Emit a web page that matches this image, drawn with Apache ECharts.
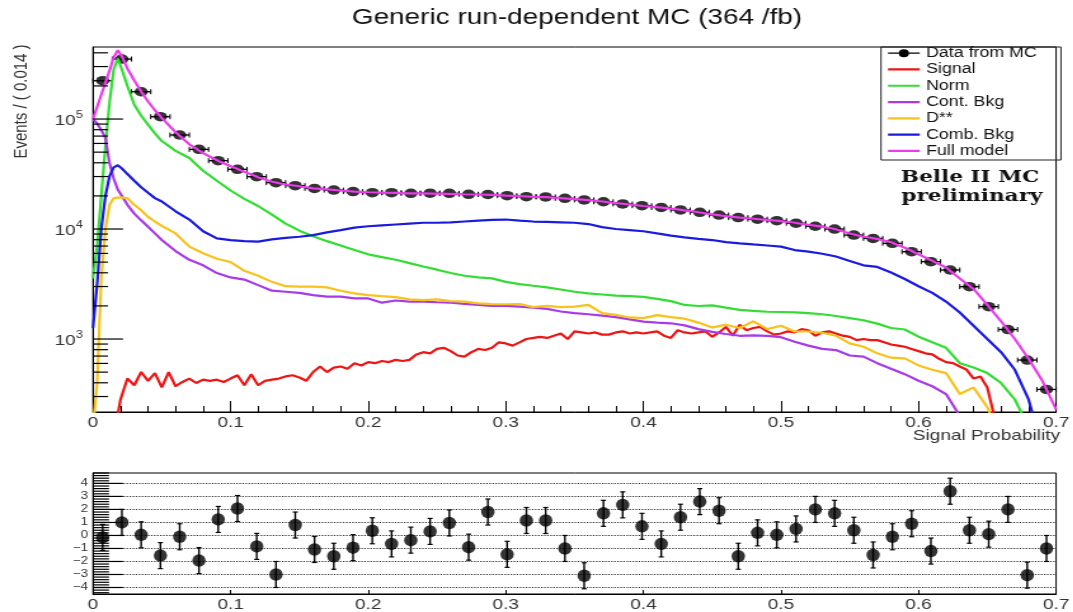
<!DOCTYPE html>
<html><head><meta charset="utf-8">
<script src="https://cdn.jsdelivr.net/npm/echarts@6/dist/echarts.min.js"></script>
<style>
html,body{margin:0;padding:0;background:#fff;overflow:hidden;}
#wrap{width:1073px;height:612px;overflow:hidden;position:relative;background:#fff;}
#c{width:845px;height:612px;transform:scaleX(1.27);transform-origin:0 0;}
</style></head>
<body><div id="wrap"><div id="c"></div></div>
<script>
const binWidth = 0.014;
const dataX = [0.007,0.021,0.035,0.049,0.063,0.077,0.091,0.105,0.119,0.133,
  0.147,0.161,0.175,0.189,0.203,0.217,0.231,0.245,0.259,0.273,
  0.287,0.301,0.315,0.329,0.343,0.357,0.371,0.385,0.399,0.413,
  0.427,0.441,0.455,0.469,0.483,0.497,0.511,0.525,0.539,0.553,
  0.567,0.581,0.595,0.609,0.623,0.637,0.651,0.665,0.679,0.693];
const dataY = [223000,351000,177000,105000,71600,53000,41800,34900,29900,26400,
  24800,23400,22600,21900,21400,21400,21100,21200,21100,20700,
  20600,20100,19700,19600,19000,18400,17700,16900,16300,15700,
  14900,14200,13400,12700,12300,11900,11300,10600,10000,8810,
  8220,7410,6220,5050,4240,2990,1970,1220,644,348];
const pullY = [-0.15,1.0,0.05,-1.55,-0.1,-1.93,1.23,2.07,-0.84,-3.0,
  0.8,-1.08,-1.6,-0.94,0.36,-0.65,-0.36,0.31,0.96,-0.9,
  1.8,-1.45,1.15,1.15,-1.0,-3.1,1.7,2.35,0.7,-0.65,
  1.4,2.6,1.9,-1.6,0.2,0.05,0.5,2.0,1.7,0.4,
  -1.5,-0.1,0.9,-1.2,3.4,0.4,0.1,2.0,-3.05,-1.0];
const curveX = [0,0.003,0.006,0.009,0.012,0.015,0.018,0.021,0.025,0.03,0.035,0.04,0.045,0.05,
  0.06,0.07,0.08,0.09,0.10,0.11,0.12,0.13,0.14,0.15,
  0.16,0.17,0.18,0.19,0.20,0.21,0.22,0.23,0.24,0.25,
  0.26,0.27,0.28,0.29,0.30,0.31,0.32,0.33,0.34,0.35,
  0.36,0.37,0.38,0.39,0.40,0.41,0.42,0.43,0.44,0.45,
  0.46,0.47,0.48,0.49,0.50,0.51,0.52,0.53,0.54,0.55,
  0.56,0.57,0.58,0.59,0.60,0.61,0.62,0.63,0.64,0.65,
  0.66,0.67,0.68,0.69,0.70];
const fullModel = [100000,128800,166000,213800,275400,363100,421700,371500,288400,223900,177800,144500,120200,102300,
  75900,58900,49000,42200,37200,33100,29500,26900,25400,24500,
  23400,22900,22400,21900,21600,21400,21300,21100,21100,21000,
  20900,20700,20600,20400,20100,19900,19600,19500,19100,18700,
  18300,17800,17200,16700,16200,15800,15300,14800,14200,13600,
  13100,12700,12400,12100,11800,11400,10900,10500,9950,9120,
  8510,8130,7590,6760,5890,5130,4470,3550,2850,2040,
  1450,1000,661,417,229];
const norm = [3550,7080,19950,56200,141300,281800,354800,281800,199500,134900,107200,89100,74100,63100,
  51300,44200,33900,27500,22400,18800,16200,13500,11200,9660,
  8610,7760,7080,6460,5890,5560,5250,4900,4570,4270,
  3980,3760,3630,3560,3310,3160,3050,2950,2820,2690,
  2600,2540,2480,2450,2420,2320,2210,2040,1995,2020,
  1930,1840,1800,1770,1760,1750,1720,1680,1620,1550,
  1480,1380,1260,1220,1050,933,832,603,550,490,
  398,282,158,null,null];
const combBkg = [1260,3160,10000,19950,30200,36300,38000,35500,31600,27500,24000,21400,19100,17800,
  14500,12200,9550,8220,7940,7760,7670,8040,8320,8510,
  8810,9330,9770,10300,10600,10800,11000,11200,11400,11400,
  11500,11700,11900,12100,12200,11900,11700,11600,11500,11400,
  11100,10400,10000,9770,9550,9120,8710,8410,8130,7940,
  7590,7410,7240,7080,6920,6440,6240,5960,5620,5130,
  4680,4520,4030,3510,3020,2630,2190,1740,1320,1000,
  759,525,282,100,null];
const contBkg = [100000,91200,79400,67600,39800,28800,22900,19950,16600,13800,12000,10500,9120,7940,
  6310,5250,4680,3980,3630,3470,3090,2750,2690,2630,
  2510,2430,2430,2340,2340,2140,2240,2190,2190,2160,
  2140,2090,2040,2000,2000,1970,1930,1880,1780,1720,
  1680,1630,1580,1510,1440,1410,1390,1330,1230,1160,
  1110,1070,1080,1070,1040,944,871,813,794,708,
  692,603,537,479,417,372,316,200,126,null,
  null,null,null,null,null];
const dStar = [158,398,3550,10000,16600,19100,19300,19300,19100,16600,14800,12900,11700,10700,
  9120,6920,6030,5370,5010,4170,3760,3310,3020,2990,
  2990,2950,2750,2600,2510,2450,2400,2290,2260,2290,
  2210,2190,2110,2080,2070,2080,1950,2000,1950,1970,
  2040,1720,1660,1570,1550,1650,1580,1530,1410,1270,
  1350,1260,1450,1230,1320,1170,1170,1140,1070,912,
  851,741,676,667,575,525,490,316,363,240,
  126,null,null,null,null];
const signalPts = [[0.015,126],[0.02,282],[0.025,437],[0.03,380],[0.035,501],[0.04,417],[0.045,490],[0.05,363],[0.055,501],[0.06,372],
  [0.065,407],[0.07,437],[0.075,398],[0.08,427],[0.085,417],[0.09,427],[0.095,407],[0.1,437],[0.105,468],[0.11,380],
  [0.115,479],[0.12,380],[0.125,417],[0.13,427],[0.135,437],[0.14,457],[0.145,468],[0.15,447],[0.155,417],[0.16,501],
  [0.165,562],[0.17,501],[0.175,550],[0.18,562],[0.185,537],[0.19,603],[0.195,575],[0.2,617],[0.205,603],[0.21,631],
  [0.215,617],[0.22,646],[0.225,631],[0.23,646],[0.235,724],[0.24,759],[0.245,741],[0.25,813],[0.255,832],[0.26,776],
  [0.265,708],[0.27,692],[0.275,759],[0.28,813],[0.285,794],[0.29,832],[0.295,933],[0.3,912],[0.305,871],[0.31,933],
  [0.315,1000],[0.32,1023],[0.325,1047],[0.33,1023],[0.335,1072],[0.34,1122],[0.345,1000],[0.35,1175],[0.355,1148],[0.36,1122],
  [0.365,1148],[0.37,1096],[0.375,1096],[0.38,1148],[0.385,1175],[0.39,1122],[0.395,1148],[0.4,1122],[0.405,1148],[0.41,1175],
  [0.415,1072],[0.42,1023],[0.425,1202],[0.43,1148],[0.435,1122],[0.44,1148],[0.445,1175],[0.45,1047],[0.455,1148],[0.46,1288],
  [0.465,1072],[0.47,1349],[0.475,1202],[0.48,1259],[0.485,1288],[0.49,1175],[0.495,1096],[0.5,1122],[0.505,1175],[0.51,1148],
  [0.515,1230],[0.52,1202],[0.525,1072],[0.53,1148],[0.535,1175],[0.54,1122],[0.545,1072],[0.55,1047],[0.555,977],[0.56,1000],
  [0.565,977],[0.57,977],[0.575,933],[0.58,891],[0.585,871],[0.59,851],[0.595,813],[0.6,776],[0.605,741],[0.61,724],
  [0.615,661],[0.62,617],[0.625,603],[0.63,562],[0.635,525],[0.64,437],[0.645,457],[0.65,363],[0.655,200],[0.66,126]];
const legendNames = ['Data from MC','Signal','Norm','Cont. Bkg','D**','Comb. Bkg','Full model'];
const majorY = [1000,10000,100000];
const minorY = [300,400,500,600,700,800,900,2000,3000,4000,5000,6000,7000,8000,9000,
  20000,30000,40000,50000,60000,70000,80000,90000,200000,300000,400000];
const pullLines = [-4,-3,-2,-1,0,1,2,3,4];
const pullMinor = [-4.4,-4.2,-4,-3.8,-3.6,-3.4,-3.2,-3,-2.8,-2.6,-2.4,-2.2,-2,-1.8,-1.6,-1.4,-1.2,-1,-0.8,-0.6,-0.4,-0.2,0,
  0.2,0.4,0.6,0.8,1,1.2,1.4,1.6,1.8,2,2.2,2.4,2.6,2.8,3,3.2,3.4,3.6,3.8,4,4.2,4.4,4.6,4.8];

const SX = 1.27;              // the reference canvas is stretched horizontally
const gx = v => v / SX;       // reference x -> unscaled chart x
const FONT = 'Liberation Sans, Arial, Helvetica, sans-serif';
const LAB = '#333';
const COL = {'Data from MC':'#000000','Signal':'#f01414','Norm':'#33dd33','Cont. Bkg':'#a83be8',
  'D**':'#f7c31c','Comb. Bkg':'#1a1ae0','Full model':'#ec3cec'};
const lineIcon = 'path://M0,0H0.01V0.01H0Z M0,3.9H25V6.1H0Z M24.99,9.99H25V10H24.99Z';
const dataIcon = 'path://M0,0H0.01V0.01H0Z M0,4.4H8.5V5.6H0Z M16.5,4.4H25V5.6H16.5Z M8.5,5A4,4 0 1,0 16.5,5A4,4 0 1,0 8.5,5Z M24.99,9.99H25V10H24.99Z';
const gridL = gx(93), gridW = gx(1060) - gx(93);
const X_MAX = 0.7;

function curve(arr){ return curveX.map((x,i)=>[x, arr[i]]); }
function lineSeries(name, data){
  return {type:'line', name, xAxisIndex:0, yAxisIndex:0, data, showSymbol:false, symbol:'none',
    clip:true, smooth:false, color:COL[name], itemStyle:{color:COL[name]},
    lineStyle:{color:COL[name], width:2.2}, z:3, silent:true};
}
// tick marks of the left axes, drawn through the axis scale
function tickSeries(xi, yi, values, lens){
  return {type:'custom', name:'ticks' + yi, xAxisIndex:xi, yAxisIndex:yi, silent:true, z:10,
    encode:{x:0, y:1}, clip:false,
    data: values.map((v, i) => [0.35, v, lens[i]]),
    renderItem:(params, api) => {
      const p = api.coord([0, api.value(1)]);
      const len = api.value(2);
      return {type:'rect', shape:{x:p[0], y:p[1] - 0.6, width:len, height:1.2},
        style:{fill:'#000'}};
    }};
}
const mainTickVals = majorY.concat(minorY);
const mainTickLens = majorY.map(() => gx(30)).concat(minorY.map(() => gx(15)));
const pullTickVals = pullLines.concat(pullMinor);
const pullTickLens = pullLines.map(() => gx(30)).concat(pullMinor.map(() => gx(16)));

const chart = echarts.init(document.getElementById('c'), null, {width:845, height:612});
const xLabelFmt = v => v===0 ? '0' : String(+v.toFixed(1));
const option = {
  animation:false,
  backgroundColor:'#fff',
  grid:[
    {left:gridL, top:47, width:gridW, height:365, show:true, borderColor:'#000', borderWidth:1, backgroundColor:'transparent'},
    {left:gridL, top:473, width:gridW, height:128.7, show:true, borderColor:'#000', borderWidth:1, backgroundColor:'transparent'}
  ],
  xAxis:[
    {type:'value', gridIndex:0, min:0, max:X_MAX, interval:0.1,
     axisLine:{show:true, onZero:false, lineStyle:{color:'#000', width:1}},
     axisTick:{show:true, inside:true, length:11, lineStyle:{color:'#000', width:1}},
     minorTick:{show:true, splitNumber:5, length:6, lineStyle:{color:'#000', width:1}},
     axisLabel:{color:LAB, fontSize:15, fontFamily:FONT, margin:3, formatter:xLabelFmt},
     splitLine:{show:false}, minorSplitLine:{show:false}},
    {type:'value', gridIndex:1, min:0, max:X_MAX, interval:0.1,
     axisLine:{show:true, onZero:false, lineStyle:{color:'#000', width:1}},
     axisTick:{show:true, inside:true, length:4, lineStyle:{color:'#000', width:1}},
     axisLabel:{color:LAB, fontSize:15, fontFamily:FONT, margin:3, formatter:xLabelFmt},
     splitLine:{show:false}}
  ],
  yAxis:[
    {type:'log', logBase:10, gridIndex:0, min:217, max:451800, position:'left',
     axisLine:{show:true, lineStyle:{color:'#000', width:1}},
     axisTick:{show:false},
     axisLabel:{show:true, customValues:majorY, margin:8,
       formatter:v => '{b|10}{s|' + Math.round(Math.log10(v)) + '}',
       rich:{b:{fontSize:15, fontFamily:FONT, color:LAB, lineHeight:18, verticalAlign:'bottom'},
             s:{fontSize:10, fontFamily:FONT, color:LAB, lineHeight:18, verticalAlign:'top'}}},
     splitLine:{show:false}, minorTick:{show:false}},
    {type:'value', gridIndex:1, min:-4.5, max:4.8, position:'left',
     axisLine:{show:true, lineStyle:{color:'#000', width:1}},
     axisTick:{show:false},
     axisLabel:{show:true, customValues:pullLines, margin:4, fontSize:10.5, fontFamily:FONT, color:LAB,
       formatter:v => (v<0 ? '\u2212' : '') + Math.abs(v)},
     splitLine:{show:false}}
  ],
  legend:{
    orient:'vertical', left:gx(888), top:45, padding:0, itemGap:0,
    itemWidth:25, itemHeight:10, selectedMode:false,
    textStyle:{fontFamily:FONT, fontSize:14, color:'#111', lineHeight:16.3},
    data: legendNames.map(n => ({name:n, icon: n==='Data from MC' ? dataIcon : lineIcon,
      itemStyle:{color:COL[n], borderWidth:0}}))
  },
  graphic:[
    {type:'text', x:gx(577), y:18, style:{text:'Generic run-dependent MC (364 /fb)', fontSize:22, fontFamily:FONT,
      fill:'#111', align:'center', verticalAlign:'middle'}},
    {type:'text', x:gx(22), y:101.5, rotation:Math.PI/2, style:{text:'Events / ( 0.014 )', fontSize:15, fontFamily:FONT,
      fill:LAB, align:'center', verticalAlign:'middle'}},
    {type:'text', x:gx(1060), y:436, style:{text:'Signal Probability', fontSize:15, fontFamily:FONT,
      fill:LAB, align:'right', verticalAlign:'middle'}},
    {type:'rect', shape:{x:gx(881), y:47, width:gx(1061)-gx(881), height:113},
      style:{fill:'none', stroke:'#222', lineWidth:1}, z:10},
    {type:'text', x:gx(970), y:178, style:{text:'Belle II MC', fontSize:17, fontWeight:'bold',
      fontFamily:'DejaVu Serif, Liberation Serif, serif', fill:'#111', align:'center', verticalAlign:'middle'}},
    {type:'text', x:gx(972), y:197, style:{text:'preliminary', fontSize:17, fontWeight:'bold',
      fontFamily:'DejaVu Serif, Liberation Serif, serif', fill:'#111', align:'center', verticalAlign:'middle'}}
  ],
  series:[
    {type:'custom', name:'Data from MC', xAxisIndex:0, yAxisIndex:0, silent:true, z:1,
     encode:{x:0, y:1},
     data: dataX.map((x,i)=>[x, dataY[i]]),
     renderItem:(params, api) => {
       const x = api.value(0), y = api.value(1);
       const a = api.coord([x - binWidth/2, y]), b = api.coord([x + binWidth/2, y]);
       const c = 2.5;
       return {type:'group', children:[
         {type:'line', shape:{x1:a[0], y1:a[1], x2:b[0], y2:b[1]}, style:{stroke:'#000', lineWidth:1.3}},
         {type:'line', shape:{x1:a[0], y1:a[1]-c, x2:a[0], y2:a[1]+c}, style:{stroke:'#000', lineWidth:1}},
         {type:'line', shape:{x1:b[0], y1:b[1]-c, x2:b[0], y2:b[1]+c}, style:{stroke:'#000', lineWidth:1}}
       ]};
     }},
    {type:'scatter', name:'Data from MC', xAxisIndex:0, yAxisIndex:0, silent:true, z:1,
     data: dataX.map((x,i)=>[x, dataY[i]]), symbol:'circle', symbolSize:[10.5, 9.5],
     itemStyle:{color:'#000'}},
    lineSeries('Signal', signalPts),
    lineSeries('Norm', curve(norm)),
    lineSeries('Cont. Bkg', curve(contBkg)),
    lineSeries('D**', curve(dStar)),
    lineSeries('Comb. Bkg', curve(combBkg)),
    lineSeries('Full model', curve(fullModel)),
    tickSeries(0, 0, mainTickVals, mainTickLens),
    tickSeries(1, 1, pullTickVals, pullTickLens),
    {type:'custom', name:'pullErr', xAxisIndex:1, yAxisIndex:1, silent:true, z:3,
     encode:{x:0, y:1},
     data: dataX.map((x,i)=>[x, pullY[i]]),
     renderItem:(params, api) => {
       const x = api.value(0), y = api.value(1);
       const a = api.coord([x, y - 1]), b = api.coord([x, y + 1]);
       const c = 2;
       return {type:'group', children:[
         {type:'line', shape:{x1:a[0], y1:a[1], x2:b[0], y2:b[1]}, style:{stroke:'#000', lineWidth:1.4}},
         {type:'line', shape:{x1:a[0]-c, y1:a[1], x2:a[0]+c, y2:a[1]}, style:{stroke:'#000', lineWidth:1.2}},
         {type:'line', shape:{x1:b[0]-c, y1:b[1], x2:b[0]+c, y2:b[1]}, style:{stroke:'#000', lineWidth:1.2}}
       ]};
     }},
    {type:'scatter', name:'pull', xAxisIndex:1, yAxisIndex:1, silent:true, z:4,
     data: dataX.map((x,i)=>[x, pullY[i]]), symbol:'circle', symbolSize:[10.5, 12.5],
     itemStyle:{color:'#000'},
     markLine:{silent:true, symbol:['none','none'], label:{show:false}, z:1,
       lineStyle:{type:'dotted', color:'#333', width:1.2},
       data: pullLines.map(v => ({yAxis:v}))}}
  ]
};
chart.setOption(option);
</script>
</body></html>
